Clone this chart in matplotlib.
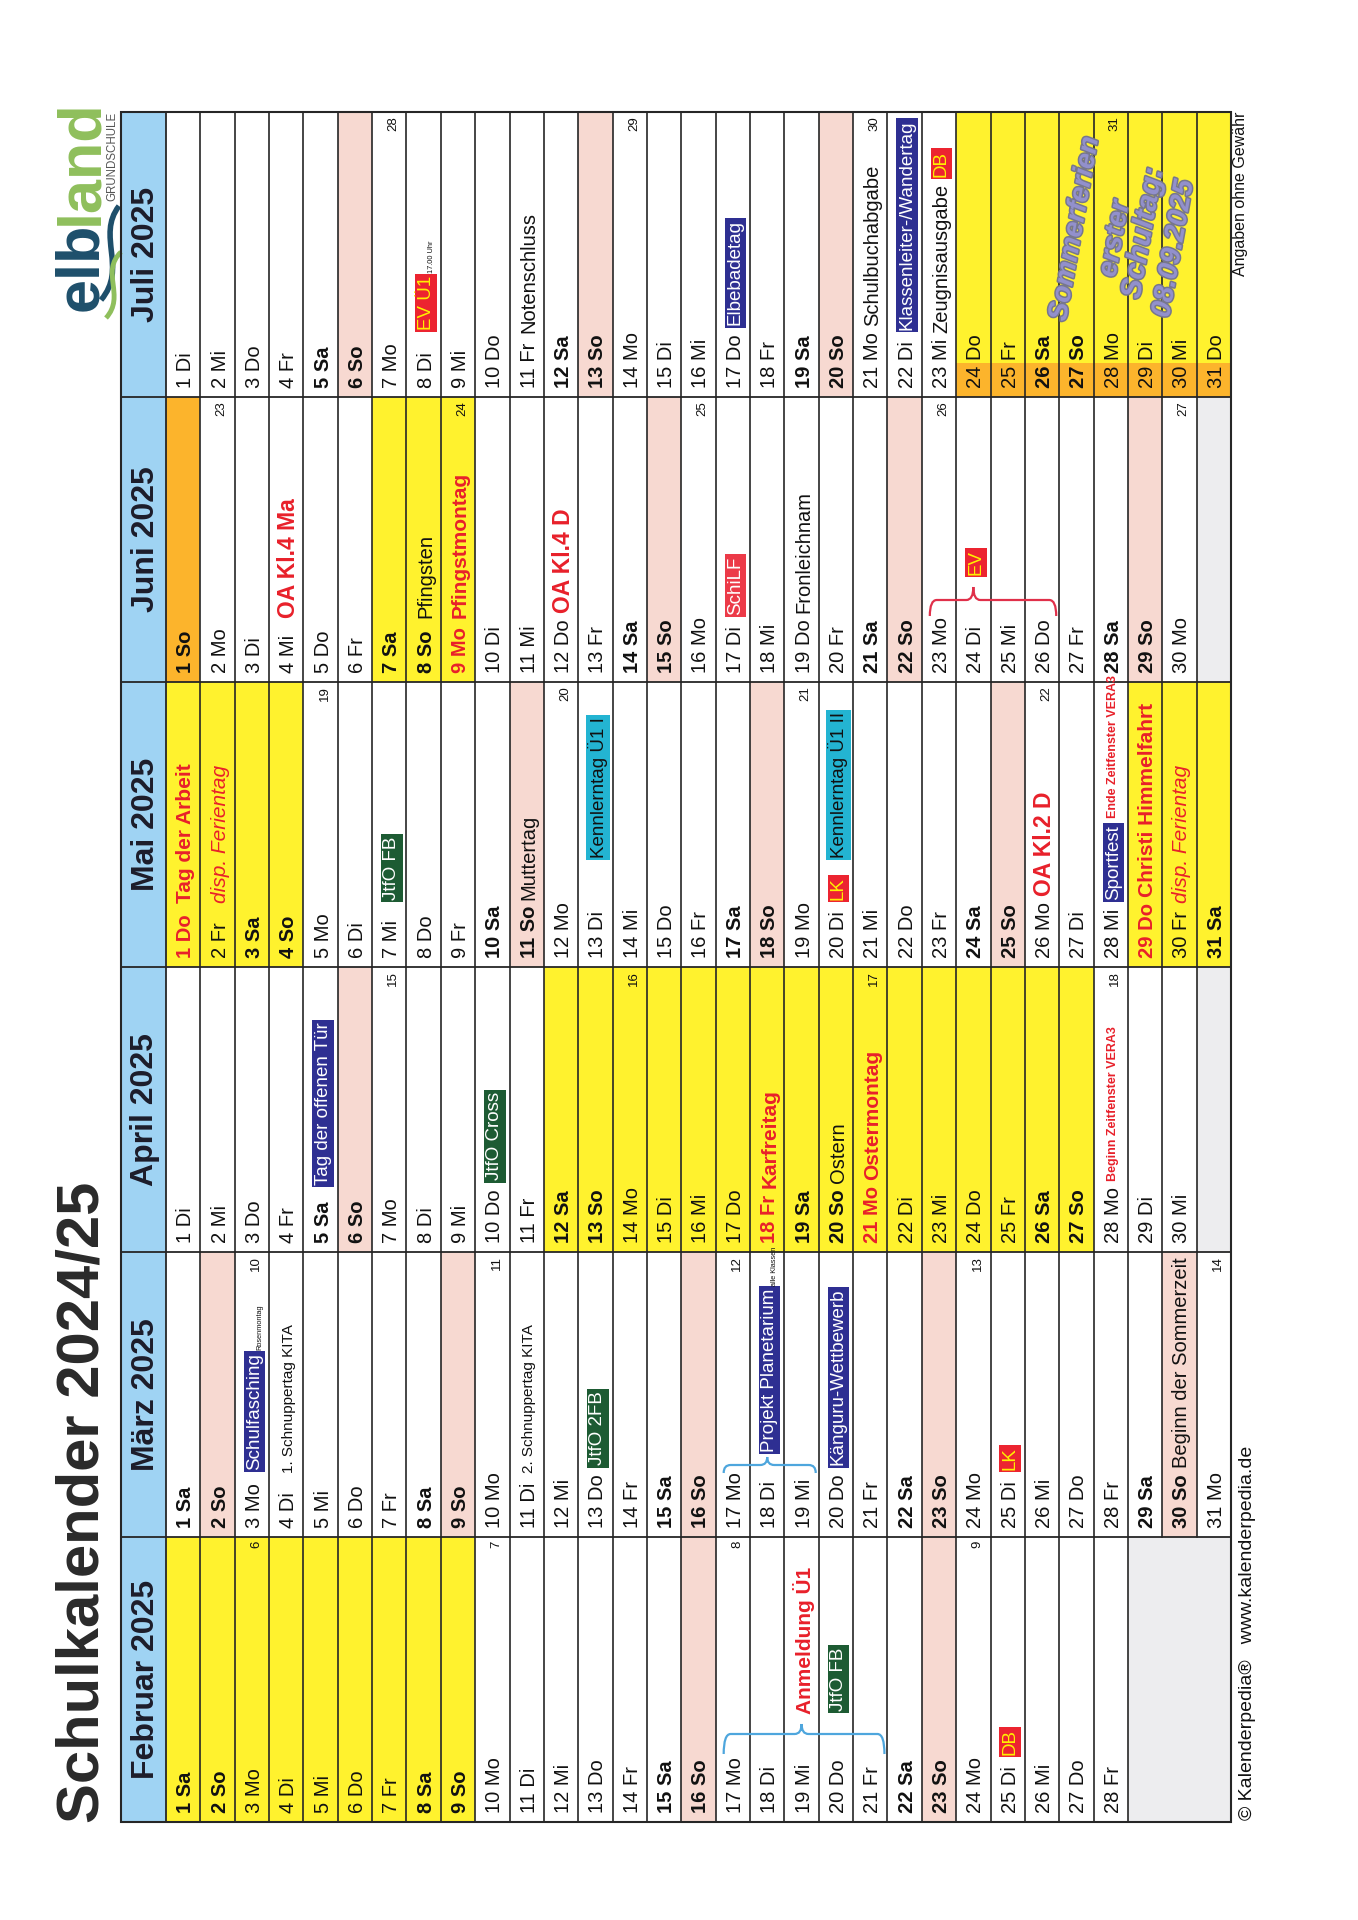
import datetime
import matplotlib
matplotlib.use("Agg")
import matplotlib.pyplot as plt
import matplotlib.patheffects as pe
from matplotlib.patches import Rectangle, PathPatch
from matplotlib.path import Path

plt.rcParams['font.family'] = ['Liberation Sans', 'DejaVu Sans']

# ---------------- data ----------------
title = "Schulkalender 2024/25"
year = 2025
month_names = ["Februar 2025", "März 2025", "April 2025", "Mai 2025", "Juni 2025", "Juli 2025"]
month_numbers = [2, 3, 4, 5, 6, 7]
weekday_names = ["Mo", "Di", "Mi", "Do", "Fr", "Sa", "So"]

# school holidays (yellow cells)
ferien = {2: list(range(1, 10)), 4: list(range(12, 28)),
          5: [1, 2, 3, 4, 29, 30, 31], 6: [7, 8, 9], 7: list(range(24, 32))}
orange_cells = {6: [1]}
orange_label_days = {7: list(range(24, 32))}
holidays = {4: [18, 21], 5: [1, 29], 6: [9]}

events = {
    2: [(19, "Anmeldung Ü1", "red_bold"), (20, "JtfO FB", "box_green"), (25, "DB", "box_red")],
    3: [(3, "Schulfasching", "box_blue"), (3, "Rosenmontag", "tiny"),
        (4, "1. Schnuppertag KITA", "small"), (11, "2. Schnuppertag KITA", "small"),
        (13, "JtfO 2FB", "box_green"),
        (18, "Projekt Planetarium", "box_blue"), (18, "alle Klassen", "tiny"),
        (20, "Känguru-Wettbewerb", "box_blue"), (25, "LK", "box_red"),
        (30, "Beginn der Sommerzeit", "plain")],
    4: [(5, "Tag der offenen Tür", "box_blue"), (10, "JtfO Cross", "box_green"),
        (18, "Karfreitag", "red_bold"), (20, "Ostern", "plain"),
        (21, "Ostermontag", "red_bold"), (28, "Beginn Zeitfenster VERA3", "tiny_red")],
    5: [(1, "Tag der Arbeit", "red_bold"), (2, "disp. Ferientag", "red_italic"),
        (7, "JtfO FB", "box_green"), (11, "Muttertag", "plain"),
        (13, "Kennlerntag Ü1 I", "box_cyan"),
        (20, "LK", "box_red"), (20, "Kennlerntag Ü1 II", "box_cyan"),
        (26, "OA Kl.2 D", "red_big"),
        (28, "Sportfest", "box_blue"), (28, "Ende Zeitfenster VERA3", "tiny_red"),
        (29, "Christi Himmelfahrt", "red_bold"), (30, "disp. Ferientag", "red_italic")],
    6: [(4, "OA Kl.4 Ma", "red_big"), (8, "Pfingsten", "plain"),
        (9, "Pfingstmontag", "red_bold"), (12, "OA Kl.4 D", "red_big"),
        (17, "SchiLF", "box_redw"), (19, "Fronleichnam", "plain"),
        (24, "EV", "box_red")],
    7: [(8, "EV Ü1", "box_red"), (8, "17.00 Uhr", "tiny"),
        (11, "Notenschluss", "plain"), (17, "Elbebadetag", "box_blue"),
        (21, "Schulbuchabgabe", "plain"), (22, "Klassenleiter-/Wandertag", "box_blue"),
        (23, "Zeugnisausgabe", "plain"), (23, "DB", "box_red")],
}

# braces: month, first day, last day, day of the tip, colour
braces = [(2, 17, 21, 19, "#4ea6dd"), (3, 17, 19, 18, "#4ea6dd"), (6, 23, 26, 24, "#e0304a")]

summer_note = ["Sommerferien", "erster", "Schultag:", "08.09.2025"]

# ---------------- styles ----------------
YELLOW = "#fff22e"
PINK = "#f7d9d1"
ORANGE = "#fcb42c"
BLUE_HEAD = "#9fd3f3"
GREY = "#ededef"
RED = "#e8202a"
LINE = "#262626"


def boxed(fc, color):
    return dict(fontsize=13.5, color=color,
                bbox=dict(boxstyle="square,pad=0.12", fc=fc, ec="none"))


styles = {
    "plain": dict(fontsize=14.5, color="#111111"),
    "small": dict(fontsize=11, color="#111111"),
    "tiny": dict(fontsize=5.3, color="#111111"),
    "red_bold": dict(fontsize=15, color=RED, fontweight="bold"),
    "red_big": dict(fontsize=16.5, color=RED, fontweight="bold"),
    "red_italic": dict(fontsize=15, color=RED, fontstyle="italic"),
    "tiny_red": dict(fontsize=9, color=RED, fontweight="bold"),
    "box_blue": boxed("#2e2f92", "white"),
    "box_green": boxed("#1d5b33", "white"),
    "box_cyan": boxed("#23b4d2", "#111111"),
    "box_red": boxed("#ec2430", "#fff200"),
    "box_redw": boxed("#ec3a48", "white"),
}
# the cyan "Kennlerntag" boxes sit further up in their cells
style_min_offset = {"box_cyan": 106}

# brace drawing offsets from the month bottom: end, line, tip, label start
brace_geometry = {2: (68, 88, 98, 108), 3: (64, 72, 80, 82), 6: (66, 82, 95, 104)}

# ---------------- layout ----------------
W, H = 1358, 1920
fig = plt.figure(figsize=(W / 100, H / 100), dpi=100)
ax = fig.add_axes([0, 0, 1, 1])
ax.set_xlim(0, W)
ax.set_ylim(H, 0)
ax.axis("off")
renderer = fig.canvas.get_renderer()

left, head_right, right = 121, 166, 1231
top, bottom = 112, 1822
col_w = (right - head_right) / 31
row_h = (bottom - top) / len(month_names)


def month_span(i):
    b = bottom - i * row_h
    return b - row_h, b


def day_left(d):
    return head_right + (d - 1) * col_w


def y_extent(t):
    bb = t.get_window_extent(renderer=renderer)
    inv = ax.transData.inverted()
    (_, ya), (_, yb) = inv.transform([[bb.x0, bb.y0], [bb.x1, bb.y1]])
    return min(ya, yb), max(ya, yb)


def days_in(m):
    nxt = datetime.date(year, m + 1, 1) if m < 12 else datetime.date(year + 1, 1, 1)
    return (nxt - datetime.timedelta(days=1)).day


def brace(x1, x2, xt, y_end, y_line, y_tip, color):
    r = 7
    verts = [(x1, y_end), (x1, y_line), (x1 + r, y_line), (xt - r, y_line),
             (xt, y_line), (xt, y_tip),
             (xt, y_tip), (xt, y_line), (xt + r, y_line), (x2 - r, y_line),
             (x2, y_line), (x2, y_end)]
    codes = [Path.MOVETO, Path.CURVE3, Path.CURVE3, Path.LINETO, Path.CURVE3, Path.CURVE3,
             Path.MOVETO, Path.CURVE3, Path.CURVE3, Path.LINETO, Path.CURVE3, Path.CURVE3]
    ax.add_patch(PathPatch(Path(verts, codes), fill=False, ec=color, lw=1.6, zorder=3))


# ---------------- cells ----------------
for i, (name, m) in enumerate(zip(month_names, month_numbers)):
    y0, y1 = month_span(i)
    nd = days_in(m)
    ax.add_patch(Rectangle((left, y0), head_right - left, row_h, fc=BLUE_HEAD, ec="none", zorder=0))
    ax.text((left + head_right) / 2 + 2, (y0 + y1) / 2, name, rotation=90, ha="center", va="center",
            fontsize=23, fontweight="bold", color="#1c1c2a", zorder=4)
    for d in range(1, 32):
        x = day_left(d)
        if d > nd:
            ax.add_patch(Rectangle((x, y0), col_w, row_h, fc=GREY, ec="none", zorder=0))
            continue
        wd = datetime.date(year, m, d).weekday()
        fc = "white"
        if d in ferien.get(m, []):
            fc = YELLOW
        elif wd == 6:
            fc = PINK
        if d in orange_cells.get(m, []):
            fc = ORANGE
        ax.add_patch(Rectangle((x, y0), col_w, row_h, fc=fc, ec="none", zorder=0))
        if d in orange_label_days.get(m, []):
            ax.add_patch(Rectangle((x, y1 - 34), col_w, 34, fc=ORANGE, ec="none", zorder=0))

# ---------------- grid ----------------
ax.add_patch(Rectangle((left, top), right - left, bottom - top, fill=False, ec=LINE, lw=1.5, zorder=3))
ax.plot([head_right, head_right], [top, bottom], color=LINE, lw=1.3, zorder=3)
for i, m in enumerate(month_numbers):
    y0, y1 = month_span(i)
    ax.plot([left, right], [y0, y0], color=LINE, lw=1.3, zorder=3)
    nd = days_in(m)
    for d in range(1, min(nd, 30) + 1):
        xr = day_left(d + 1)
        ax.plot([xr, xr], [y0, y1], color=LINE, lw=1.2, zorder=3)

# ---------------- braces ----------------
brace_start = {}
for m, d1, d2, dt_, col in braces:
    i = month_numbers.index(m)
    y0, y1 = month_span(i)
    g_end, g_line, g_tip, g_lab = brace_geometry[m]
    brace(day_left(d1) + 8, day_left(d2 + 1) - 3, day_left(dt_) + col_w / 2,
          y1 - g_end, y1 - g_line, y1 - g_tip, col)
    for d in range(d1, d2 + 1):
        brace_start[(m, d)] = y1 - g_lab

# ---------------- day labels + events ----------------
for i, m in enumerate(month_numbers):
    y0, y1 = month_span(i)
    nd = days_in(m)
    by_day = {}
    for d, txt, st in events.get(m, []):
        by_day.setdefault(d, []).append((txt, st))
    for d in range(1, nd + 1):
        date = datetime.date(year, m, d)
        wd = date.weekday()
        xc = day_left(d) + col_w / 2 + 2.5
        is_hol = d in holidays.get(m, [])
        bold = wd >= 5 or is_hol
        lab = ax.text(xc, y1 - 9, f"{d} {weekday_names[wd]}", rotation=90, ha="center", va="bottom",
                      fontsize=14.5, fontweight="bold" if bold else "normal",
                      color=RED if is_hol else "#111111", zorder=4)
        lab_top, _ = y_extent(lab)
        if wd == 0:
            ax.text(day_left(d) + col_w * 0.62, y0 + 4, str(date.isocalendar()[1]), rotation=90,
                    ha="center", va="top", fontsize=9.5, color="#111111", zorder=4)
        items = by_day.get(d, [])
        if not items:
            continue
        if (m, d) in brace_start:
            y = brace_start[(m, d)]
        else:
            y = min(y1 - 64, lab_top - 6)
        prev_box = False
        for txt, st in items:
            kw = dict(styles[st])
            if st in style_min_offset:
                y = min(y, y1 - style_min_offset[st])
            is_box = "bbox" in kw
            if st == "tiny" and prev_box:
                y += 4
            xx = xc + (5 if st == "tiny" else 0)
            t = ax.text(xx, y - (3 if is_box else 0), txt, rotation=90, ha="center", va="bottom",
                        zorder=5, **kw)
            ty0, _ = y_extent(t)
            y = ty0 - (7 if is_box else 4)
            prev_box = is_box

# ---------------- summer note ----------------
note_pos = [(1075, 229, 20), (1115, 239, 20), (1143, 233, 21), (1174, 249, 20)]
for txt, (x, y, fs) in zip(summer_note, note_pos):
    ax.text(x, y, txt, rotation=80, rotation_mode="anchor", ha="center", va="center",
            fontsize=fs, fontweight="bold", fontstyle="italic", color="#9290cc", zorder=6,
            path_effects=[pe.withStroke(linewidth=2.2, foreground="#77778c")])

# ---------------- title, logo, footer ----------------
ax.text(55, 1823, title, rotation=90, ha="left", va="bottom", fontsize=43,
        fontweight="bold", color="#2a2a2a")

lt = ax.text(53, 311, "elb", rotation=90, ha="left", va="bottom", fontsize=44,
             fontweight="bold", color="#1e4f6b")
ly0, _ = y_extent(lt)
ax.text(53, ly0 + 2, "land", rotation=90, ha="left", va="bottom", fontsize=44,
        fontweight="bold", color="#8fbf5c")
ax.text(112, 112, "GRUNDSCHULE", rotation=90, ha="center", va="top", fontsize=8.3, color="#555555")
sw1 = Path([(119, 206), (96, 236), (128, 268), (101, 300)],
           [Path.MOVETO, Path.CURVE4, Path.CURVE4, Path.CURVE4])
sw2 = Path([(121, 252), (100, 272), (126, 296), (106, 318)],
           [Path.MOVETO, Path.CURVE4, Path.CURVE4, Path.CURVE4])
ax.add_patch(PathPatch(sw1, fill=False, ec="#1e4f6b", lw=4))
ax.add_patch(PathPatch(sw2, fill=False, ec="#8fbf5c", lw=3.5))

ax.text(1247, 1820, "© Kalenderpedia®   www.kalenderpedia.de", rotation=90, ha="center",
        va="bottom", fontsize=14, color="#111111")
ax.text(1241, 112, "Angaben ohne Gewähr", rotation=90, ha="center", va="top",
        fontsize=11.5, color="#111111")

fig.savefig("out.png", dpi=100, facecolor="white")
